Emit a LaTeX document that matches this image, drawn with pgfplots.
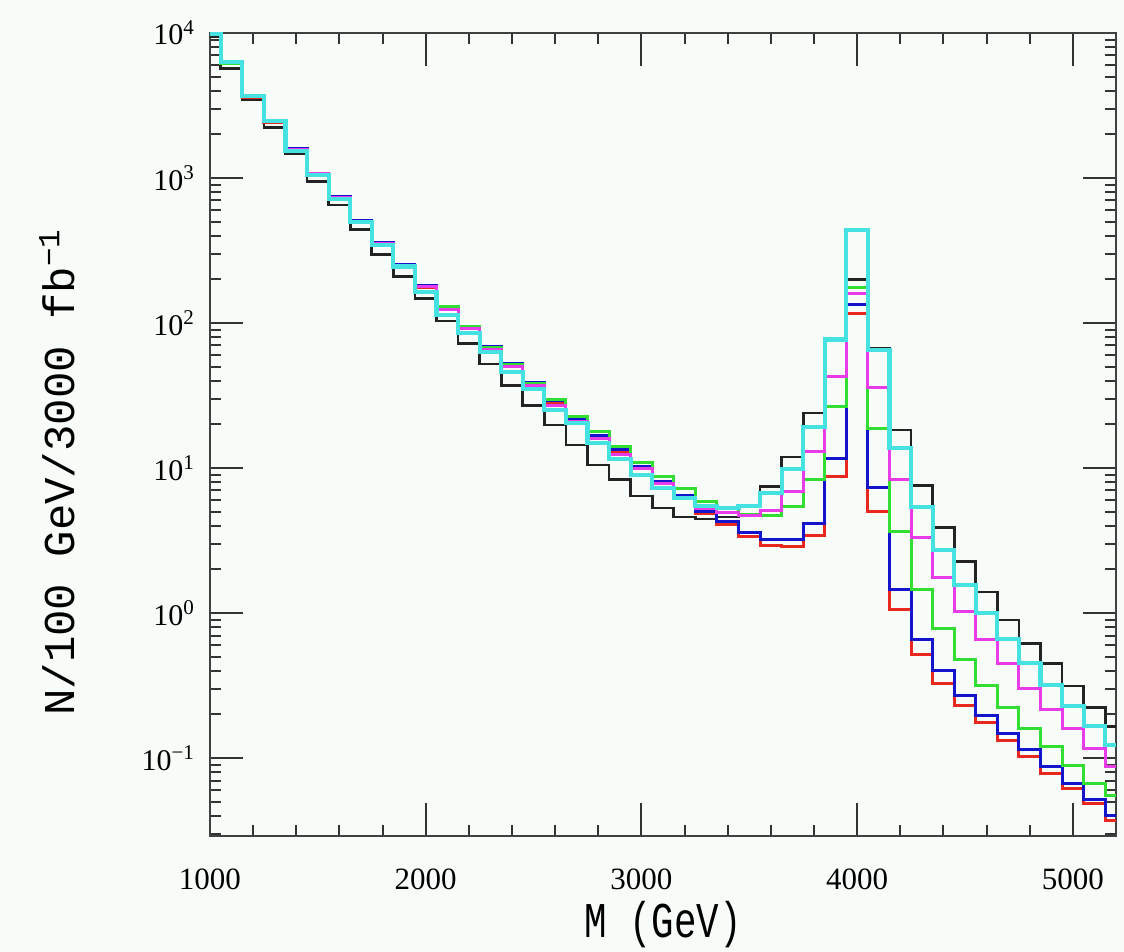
\documentclass[border=0pt]{standalone}
\usepackage{fontspec}
\setmainfont{Liberation Serif}
\newfontfamily\labfont{Liberation Mono}
\newfontfamily\xlabfont[FakeStretch=0.75]{Liberation Mono}
\usepackage{pgfplots}
\usepackage{pgfplotstable}
\pgfplotsset{compat=1.18}
\definecolor{bgc}{RGB}{248,252,248}
\definecolor{cK}{RGB}{35,35,35}
\definecolor{cR}{RGB}{232,40,30}
\definecolor{cB}{RGB}{20,20,205}
\definecolor{cG}{RGB}{50,222,50}
\definecolor{cM}{RGB}{232,60,232}
\definecolor{cC}{RGB}{70,226,226}
\pgfplotstableread{
x     K      R      B      G      M      C
1000  9500   9700   9800   9800   9800   9900
1050  5700   6150   6300   6200   6250   6290
1150  3470   3600   3700   3650   3650   3660
1250  2240   2420   2480   2450   2450   2460
1350  1470   1560   1590   1570   1580   1540
1450  950    1050   1077   1065   1070   1050
1550  650    720    745    735    736    720
1650  440    495    508    500    502    495
1750  296    345    357    352    355    345
1850  210    245    252    250    250    245
1950  147    176    181    180    178    164
2050  103    127    131    130    124    113
2150  72     93     95     94     92     85
2250  52     67     69     68     66     63
2350  37     51     52.7   52     50     46
2450  27     38     39     38.5   37     35
2550  19.8   28.5   29.4   29.5   27.2   25
2650  14.4   21.5   22     22.5   21     20.5
2750  10.5   16.5   16.8   17.8   16     14.8
2850  8.3    13     13.4   14     12.3   11.5
2950  6.4    10     10.3   11     10     9
3050  5.3    7.8    8.05   8.8    7.8    7.25
3150  4.6    6.2    6.5    7.25   6.3    6.2
3250  4.45   4.88   5.0    5.86   5.3    5.47
3350  4.6    4.05   4.27   5.3    4.9    5.27
3450  5.4    3.36   3.58   4.8    4.67   5.47
3550  7.43   2.94   3.22   4.67   5.13   6.76
3650  11.9   2.87   3.22   5.47   6.87   9.8
3750  24     3.45   4.16   8.36   13     19.3
3850  78     8.8    11.7   26.5   43     77
3950  200    117    135    176    160    438
4050  67     5.0    7.37   18.8   35.8   65
4150  18.3   1.05   1.46   3.64   8.27   13.7
4250  7.6    0.52   0.66   1.46   3.33   5.4
4350  3.9    0.326  0.40   0.785  1.75   2.72
4450  2.26   0.232  0.268  0.48   1.03   1.56
4550  1.40   0.175  0.198  0.314  0.66   0.995
4650  0.895  0.133  0.148  0.224  0.45   0.66
4750  0.618  0.102  0.114  0.16   0.303  0.454
4850  0.45   0.078  0.088  0.12   0.217  0.319
4950  0.314  0.0617 0.067  0.0895 0.16   0.229
5050  0.224  0.0488 0.052  0.067  0.117  0.166
5150  0.165  0.037  0.040  0.055  0.087  0.123
5200  0.165  0.037  0.040  0.055  0.087  0.123
}\histdata
\begin{document}
\begin{tikzpicture}
\fill[bgc] (-105pt,-58pt) rectangle (457pt,418pt);
\begin{axis}[
  scale only axis, width=453pt, height=401.5pt,
  ymode=log, xmin=1000, xmax=5200, ymin=0.029, ymax=10000,
  xtick={1000,2000,3000,4000,5000},
  xticklabels={1000,2000,3000,4000,5000},
  minor xtick={1200,1400,1600,1800,2200,2400,2600,2800,3200,3400,3600,3800,4200,4400,4600,4800},
  ytick={0.1,1,10,100,1000,10000},
  yticklabels={10\textsuperscript{−1},10\textsuperscript{0},10\textsuperscript{1},10\textsuperscript{2},10\textsuperscript{3},10\textsuperscript{4}},
  minor ytick={0.03,0.04,0.05,0.06,0.07,0.08,0.09,0.2,0.3,0.4,0.5,0.6,0.7,0.8,0.9,2,3,4,5,6,7,8,9,20,30,40,50,60,70,80,90,200,300,400,500,600,700,800,900,2000,3000,4000,5000,6000,7000,8000,9000},
  tick pos=both, tick align=inside,
  major tick length=16.5pt, minor tick length=5.5pt,
  every tick/.style={line width=1pt, black!80},
  axis line style={line width=1.4pt, black!75},
  xticklabel style={font=\fontsize{15.5}{17}\selectfont, yshift=-13pt},
  yticklabel style={font=\fontsize{15}{17}\selectfont, xshift=-4pt},
  xlabel={M (GeV)},
  xlabel style={font=\xlabfont\fontsize{25}{27}\selectfont, at={(rel axis cs:0.5,-0.1108)}, anchor=center},
  ylabel={N/100 GeV/3000 fb\textsuperscript{−1}},
  ylabel style={font=\labfont\fontsize{22}{24}\selectfont, at={(rel axis cs:-0.1689,0.453)}, anchor=center},
  const plot mark left,
]
\addplot[cK, line width=1.3pt] table[x=x, y=K] {\histdata};
\addplot[cR, line width=1.5pt] table[x=x, y=R] {\histdata};
\addplot[cB, line width=1.5pt] table[x=x, y=B] {\histdata};
\addplot[cG, line width=1.5pt] table[x=x, y=G] {\histdata};
\addplot[cM, line width=1.5pt] table[x=x, y=M] {\histdata};
\addplot[cC, line width=2.1pt] table[x=x, y=C] {\histdata};
\end{axis}
\pgfresetboundingbox
\path[use as bounding box] (-105pt,-58pt) rectangle (457pt,418pt);
\end{tikzpicture}
\end{document}
